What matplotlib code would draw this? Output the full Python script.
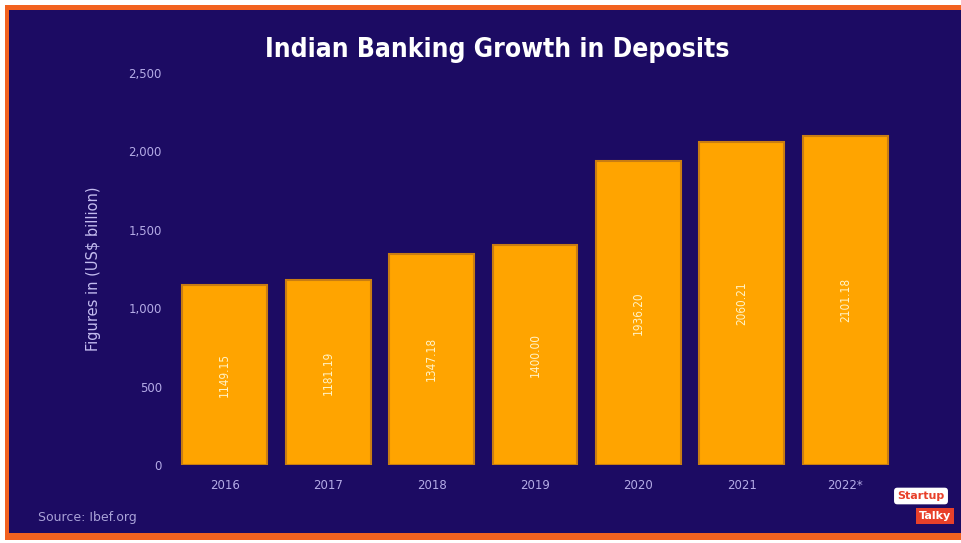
import matplotlib.pyplot as plt
from matplotlib.patches import Rectangle

# Deposits data (US$ billion)
years = ['2016', '2017', '2018', '2019', '2020', '2021', '2022*']
deposits = [1149.15, 1181.19, 1347.18, 1400.00, 1936.20, 2060.21, 2101.18]
bar_labels = ['1149.15', '1181.19', '1347.18', '1400.00', '1936.20', '2060.21', '2101.18']
y_ticks = [0, 500, 1000, 1500, 2000, 2500]
y_tick_labels = ['0', '500', '1,000', '1,500', '2,000', '2,500']

navy = '#1c0b63'
orange = '#ffa400'
tick_col = '#b4abe6'

W, H = 961, 543
fig = plt.figure(figsize=(W / 100, H / 100), dpi=100, facecolor='white')

# background panel: orange frame + navy fill
bg = fig.add_axes([0, 0, 1, 1], zorder=-5)
bg.set_xlim(0, W)
bg.set_ylim(H, 0)
bg.axis('off')
bg.add_patch(Rectangle((5, 5), W, H - 8, facecolor='#f2621f', edgecolor='none'))
bg.add_patch(Rectangle((9, 10), W, H - 20, facecolor=navy, edgecolor='none'))

ax = fig.add_axes([173 / W, 1 - 465 / H, (897 - 173) / W, (465 - 73) / H])
ax.set_facecolor('none')

x = range(len(years))
bars = ax.bar(x, deposits, width=0.82, color=orange, edgecolor='#c97d12', linewidth=1.5)

for i, b in enumerate(bars):
    ax.text(b.get_x() + b.get_width() / 2, b.get_height() / 2, bar_labels[i],
            rotation=90, ha='center', va='center', fontsize=8.5,
            color='#fff3c8', fontstretch='condensed')

ax.set_xlim(-0.5, len(years) - 0.5)
ax.set_ylim(0, 2500)
ax.set_yticks(y_ticks)
ax.set_yticklabels(y_tick_labels)
ax.set_xticks(list(x))
ax.set_xticklabels(years)
ax.tick_params(axis='both', length=0, colors=tick_col, labelsize=8.5, pad=10)
ax.tick_params(axis='y', pad=8)
for s in ax.spines.values():
    s.set_visible(False)

ax.set_ylabel('Figures in (US$ billion)', color='#c4bdf0', fontsize=10.5, labelpad=20)

fig.text(497 / W, 1 - 50 / H, 'Indian Banking Growth in Deposits', ha='center', va='center',
         fontsize=19, fontweight='heavy', color='white', fontstretch='condensed')
fig.text(38 / W, 1 - 518 / H, 'Source: Ibef.org', ha='left', va='center',
         fontsize=9, color='#a9a2d8')

# small StartupTalky badge
fig.text(921 / W, 1 - 496 / H, 'Startup', ha='center', va='center', fontsize=8,
         fontweight='bold', color='#e8402a',
         bbox=dict(boxstyle='round,pad=0.3', facecolor='white', edgecolor='none'))
fig.text(935 / W, 1 - 516 / H, 'Talky', ha='center', va='center', fontsize=8,
         fontweight='bold', color='white',
         bbox=dict(boxstyle='square,pad=0.3', facecolor='#e8402a', edgecolor='none'))

fig.savefig('out.png', dpi=100, facecolor=fig.get_facecolor())
